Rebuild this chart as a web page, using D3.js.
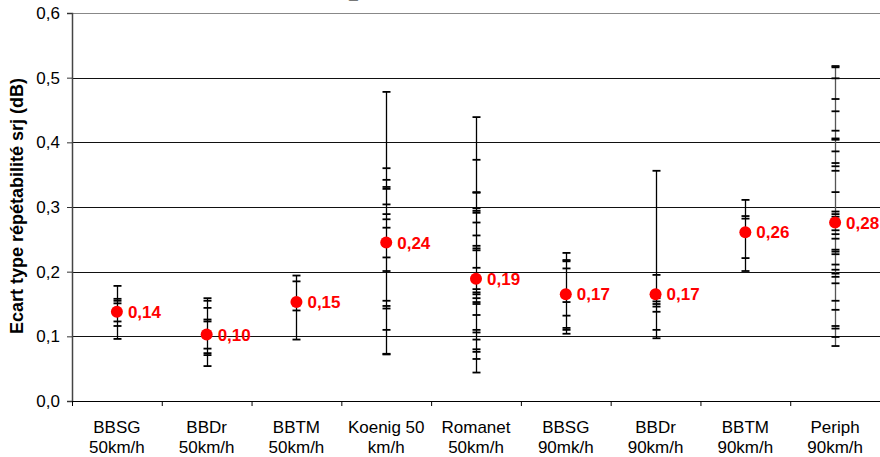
<!DOCTYPE html>
<html>
<head>
<meta charset="utf-8">
<script src="https://cdn.jsdelivr.net/npm/d3@7"></script>
<style>
  body { margin: 0; background: #fff; }
  svg { display: block; font-family: "Liberation Sans", Arial, sans-serif; }
</style>
</head>
<body>
<div id="chart"></div>
<script>
// Categories (two lines each)
var categories = [
  ["BBSG", "50km/h"], ["BBDr", "50km/h"], ["BBTM", "50km/h"],
  ["Koenig 50", "km/h"], ["Romanet", "50km/h"], ["BBSG", "90mk/h"],
  ["BBDr", "90km/h"], ["BBTM", "90km/h"], ["Periph", "90km/h"]
];

// Mean values and their labels
var means = [0.138, 0.103, 0.153, 0.245, 0.189, 0.165, 0.165, 0.261, 0.276];
var meanLabels = ["0,14", "0,10", "0,15", "0,24", "0,19", "0,17", "0,17", "0,26", "0,28"];

// Individual repeatability values per category
var bbsg50 = [0.178, 0.158, 0.155, 0.151, 0.123, 0.116, 0.096];
var bbdr50 = [0.159, 0.155, 0.144, 0.126, 0.123, 0.081, 0.074, 0.071, 0.054];
var bbtm50 = [0.194, 0.185, 0.140, 0.095];
var koenig50 = [0.478, 0.360, 0.342, 0.331, 0.328, 0.304, 0.289, 0.281, 0.268,
  0.222, 0.201, 0.155, 0.147, 0.143, 0.110, 0.073, 0.072];
var romanet50 = [0.439, 0.373, 0.323, 0.322, 0.298, 0.294, 0.291, 0.276, 0.256, 0.240,
  0.236, 0.233, 0.206, 0.173, 0.168, 0.165, 0.159, 0.153, 0.150, 0.133,
  0.110, 0.106, 0.095, 0.080, 0.076, 0.065, 0.044];
var bbsg90 = [0.229, 0.218, 0.216, 0.205, 0.153, 0.132, 0.113, 0.110, 0.104];
var bbdr90 = [0.356, 0.195, 0.159, 0.154, 0.150, 0.146, 0.138, 0.110, 0.097];
var bbtm90 = [0.311, 0.286, 0.282, 0.221, 0.201];
var periph90 = [0.518, 0.516, 0.499, 0.467, 0.448, 0.418, 0.406, 0.404, 0.386, 0.368,
  0.363, 0.356, 0.323, 0.293, 0.289, 0.285, 0.264, 0.258, 0.251, 0.234,
  0.231, 0.227, 0.211, 0.203, 0.197, 0.192, 0.182, 0.155, 0.141, 0.116,
  0.112, 0.099, 0.085];
var observations = [bbsg50, bbdr50, bbtm50, koenig50, romanet50, bbsg90, bbdr90, bbtm90, periph90];

var yTicks = [0, 0.1, 0.2, 0.3, 0.4, 0.5, 0.6];

// Dimensions
var totalWidth = 880, totalHeight = 457;
var margin = { top: 13, right: 0, bottom: 56, left: 72 },
  width = totalWidth - margin.left - margin.right,
  height = totalHeight - margin.top - margin.bottom;

var svg = d3.select("#chart")
  .append("svg")
  .attr("width", totalWidth)
  .attr("height", totalHeight);

// cut-off title fragment at the very top
svg.append("text")
  .attr("x", 349)
  .attr("y", -1)
  .attr("font-size", "16px")
  .attr("font-weight", "bold")
  .text("_");

var g = svg.append("g")
  .attr("transform", "translate(" + margin.left + "," + margin.top + ")");

// Scales
var x = d3.scaleBand()
  .domain(d3.range(categories.length))
  .range([0, width]);

var y = d3.scaleLinear()
  .domain([0, 0.6])
  .range([height, 0]);

// Gridlines
g.append("g")
  .selectAll("line")
  .data(yTicks.slice(1))
  .enter().append("line")
  .attr("x1", 0)
  .attr("x2", width)
  .attr("y1", function(d) { return Math.round(y(d)) + 0.5; })
  .attr("y2", function(d) { return Math.round(y(d)) + 0.5; })
  .attr("stroke", function(d) { return d === 0.6 ? "#888" : "#111"; })
  .attr("stroke-width", 1);

// Y axis
var yAxis = g.append("g")
  .call(d3.axisLeft(y)
    .tickValues(yTicks)
    .tickSize(5)
    .tickPadding(7)
    .tickFormat(function(d) { return d3.format(".1f")(d).replace(".", ","); }));
yAxis.select(".domain").attr("stroke", "#444").attr("stroke-width", 1.5);
yAxis.selectAll(".tick line").attr("stroke", "#333");
yAxis.selectAll("text")
  .attr("font-size", "17px")
  .attr("font-family", "Liberation Sans, Arial, sans-serif")
  .attr("fill", "#000");

// X axis
var xAxisG = g.append("g")
  .attr("transform", "translate(0," + height + ")");
xAxisG.append("line")
  .attr("x1", 0).attr("x2", width)
  .attr("y1", 0.5).attr("y2", 0.5)
  .attr("stroke", "#000");
xAxisG.selectAll(".xtick")
  .data(d3.range(categories.length + 1))
  .enter().append("line")
  .attr("x1", function(i) { return i * x.step() + 0.5; })
  .attr("x2", function(i) { return i * x.step() + 0.5; })
  .attr("y1", 0).attr("y2", 5)
  .attr("stroke", "#000");

var xLabels = xAxisG.selectAll(".xlabel")
  .data(categories)
  .enter().append("text")
  .attr("text-anchor", "middle")
  .attr("font-size", "17px")
  .attr("x", function(d, i) { return x(i) + x.bandwidth() / 2; });
xLabels.append("tspan")
  .attr("x", function(d, i) { return x(i) + x.bandwidth() / 2; })
  .attr("y", 32)
  .text(function(d) { return d[0]; });
xLabels.append("tspan")
  .attr("x", function(d, i) { return x(i) + x.bandwidth() / 2; })
  .attr("y", 52)
  .text(function(d) { return d[1]; });

// Y axis title
svg.append("text")
  .attr("transform", "translate(23,206) rotate(-90)")
  .attr("text-anchor", "middle")
  .attr("font-size", "18px")
  .attr("font-weight", "bold")
  .text("Ecart type répétabilité srj (dB)");

// Ranges and individual values
var groups = g.append("g")
  .selectAll("g")
  .data(observations)
  .enter().append("g")
  .attr("transform", function(d, i) {
    return "translate(" + (Math.round(x(i) + x.bandwidth() / 2) + 0.5) + ",0)";
  });

groups.append("line")
  .attr("y1", function(d) { return y(d3.max(d)); })
  .attr("y2", function(d) { return y(d3.min(d)); })
  .attr("stroke", function(d, i) { return i === 8 ? "#555" : "#000"; })
  .attr("stroke-width", 1.3);

groups.selectAll(".obs")
  .data(function(d) { return d; })
  .enter().append("line")
  .attr("x1", -4).attr("x2", 4)
  .attr("y1", function(d) { return y(d); })
  .attr("y2", function(d) { return y(d); })
  .attr("stroke", "#000")
  .attr("stroke-width", 1.8);

// Means
var meanG = g.append("g")
  .selectAll("g")
  .data(means)
  .enter().append("g")
  .attr("transform", function(d, i) {
    return "translate(" + (x(i) + x.bandwidth() / 2) + "," + y(d) + ")";
  });
meanG.append("circle")
  .attr("r", 6)
  .attr("fill", "#ff0000");
meanG.append("text")
  .attr("x", 11)
  .attr("dy", "0.36em")
  .attr("font-size", "17px")
  .attr("font-weight", "bold")
  .attr("fill", "#ff0000")
  .text(function(d, i) { return meanLabels[i]; });
</script>
</body>
</html>
